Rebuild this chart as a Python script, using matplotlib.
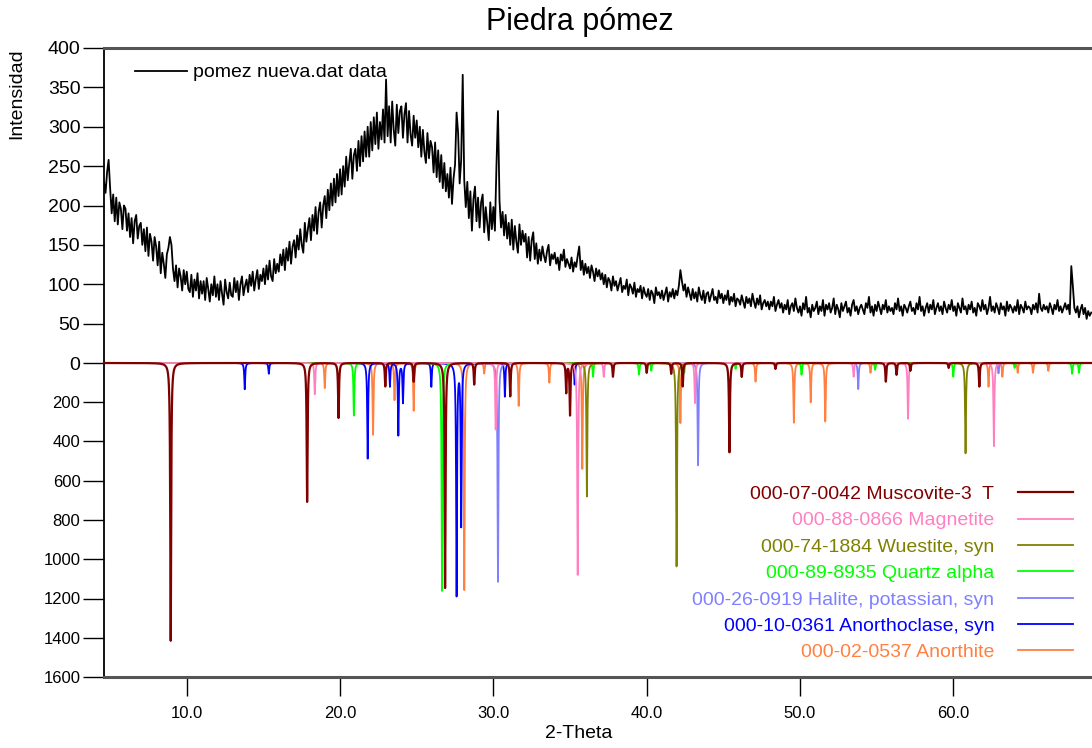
import matplotlib
matplotlib.use("Agg")
import matplotlib.pyplot as plt
from matplotlib.ticker import FormatStrFormatter
import numpy as np

plt.rcParams["font.family"] = ["Liberation Sans", "DejaVu Sans"]

SCAN_START = 4.6
SCAN_STEP = 0.1
counts = [
    230, 216, 242, 258,
    222, 190, 214, 180, 210, 176, 204, 196, 170, 200,   # 5
    196, 168, 190, 160, 184, 152, 180, 188, 158, 174,   # 6
    178, 150, 170, 142, 172, 136, 164, 154, 130, 160,   # 7
    148, 124, 154, 114, 140, 126, 108, 138, 146, 160,   # 8
    150, 120, 104, 124, 96, 120, 110, 92, 118, 100,     # 9
    116, 94, 90, 112, 84, 106, 92, 114, 82, 104,        # 10
    88, 104, 80, 108, 94, 78, 100, 86, 110, 84,         # 11
    100, 80, 104, 88, 74, 106, 90, 82, 102, 86,         # 12
    84, 108, 90, 104, 80, 100, 110, 86, 98, 106,        # 13
    90, 112, 98, 116, 92, 106, 118, 94, 112, 104,       # 14
    120, 100, 124, 106, 130, 110, 104, 132, 114, 126,   # 15
    116, 138, 124, 144, 118, 146, 130, 154, 126, 148,   # 16
    156, 134, 162, 144, 170, 150, 140, 178, 154, 170,   # 17
    184, 156, 188, 168, 198, 164, 192, 204, 172, 200,   # 18
    212, 184, 220, 194, 228, 200, 234, 204, 240, 212,   # 19
    246, 214, 250, 224, 262, 232, 254, 272, 234, 264,   # 20
    272, 244, 282, 250, 288, 256, 294, 262, 300, 262,   # 21
    306, 270, 312, 278, 318, 272, 306, 284, 322, 280,   # 22
    360, 288, 326, 280, 332, 296, 276, 328, 292, 320,   # 23
    326, 286, 316, 330, 280, 320, 290, 276, 314, 286,   # 24
    308, 274, 300, 262, 296, 268, 254, 292, 260, 282,   # 25
    274, 242, 280, 236, 270, 230, 264, 222, 254, 218,   # 26
    240, 210, 248, 202, 234, 252, 318, 292, 228, 258,   # 27
    366, 232, 198, 230, 184, 218, 168, 208, 224, 180,   # 28
    210, 172, 204, 214, 166, 198, 178, 156, 204, 170,   # 29
    198, 168, 250, 320, 206, 172, 192, 162, 188, 158,   # 30
    178, 150, 182, 144, 174, 154, 140, 176, 150, 168,   # 31
    154, 164, 134, 160, 130, 156, 166, 132, 152, 126,   # 32
    144, 130, 148, 136, 128, 142, 150, 124, 138, 132,   # 33
    140, 126, 134, 118, 138, 130, 144, 122, 132, 126,   # 34
    120, 134, 116, 128, 122, 136, 148, 118, 130, 112,   # 35
    126, 114, 122, 108, 124, 116, 104, 120, 110, 118,   # 36
    106, 114, 100, 112, 96, 108, 104, 92, 110, 98,      # 37
    104, 92, 100, 108, 90, 98, 94, 106, 86, 100,        # 38
    96, 88, 102, 84, 94, 90, 98, 82, 96, 88,            # 39
    84, 94, 80, 92, 88, 76, 96, 86, 90, 82,             # 40
    92, 80, 88, 96, 78, 90, 84, 94, 82, 92,             # 41
    86, 98, 118, 104, 92, 100, 84, 96, 88, 80,          # 42
    94, 82, 90, 78, 96, 86, 80, 92, 76, 88,             # 43
    90, 78, 86, 94, 80, 84, 76, 92, 82, 88,             # 44
    76, 86, 80, 92, 74, 84, 78, 88, 72, 82,             # 45
    80, 74, 86, 78, 70, 84, 76, 82, 72, 88,             # 46
    78, 70, 82, 74, 86, 68, 76, 80, 72, 78,             # 47
    68, 78, 72, 84, 66, 74, 80, 70, 76, 64,             # 48
    74, 68, 80, 62, 72, 76, 66, 82, 70, 64,             # 49
    72, 60, 76, 68, 84, 64, 70, 58, 74, 66,             # 50
    70, 78, 62, 72, 66, 80, 60, 74, 68, 76,             # 51
    64, 70, 82, 62, 74, 68, 58, 76, 66, 72,             # 52
    78, 64, 70, 60, 74, 80, 66, 72, 62, 70,             # 53
    74, 68, 62, 76, 70, 84, 64, 72, 60, 74,             # 54
    66, 78, 70, 62, 74, 68, 80, 64, 72, 66,             # 55
    70, 62, 76, 68, 82, 66, 72, 60, 74, 70,             # 56
    64, 72, 78, 66, 70, 62, 76, 68, 84, 66,             # 57
    72, 60, 70, 76, 64, 74, 68, 80, 62, 70,             # 58
    76, 66, 72, 62, 78, 70, 64, 74, 68, 80,             # 59
    66, 72, 60, 76, 70, 64, 82, 68, 72, 62,             # 60
    74, 68, 78, 64, 70, 60, 76, 72, 66, 80,             # 61
    68, 74, 62, 70, 84, 66, 72, 64, 76, 70,             # 62
    62, 76, 68, 72, 60, 78, 66, 74, 70, 64,             # 63
    72, 66, 80, 62, 74, 70, 64, 78, 68, 72,             # 64
    70, 62, 74, 68, 76, 64, 88, 70, 66, 74,             # 65
    68, 72, 64, 76, 70, 62, 74, 68, 80, 66,             # 66
    72, 64, 70, 76, 68, 74, 62, 123, 98, 70,            # 67
    64, 72, 58, 68, 74, 62, 70, 56, 66, 60,             # 68
    64,
]

# reference patterns: (2-theta, intensity)
muscovite = [(8.95, 1420), (17.85, 710), (19.9, 280), (22.95, 120), (24.8, 95),
             (26.85, 1150), (28.75, 110), (31.1, 170), (34.75, 150), (35.0, 265),
             (37.8, 70), (40.0, 50), (41.6, 55), (42.35, 120), (45.4, 455),
             (46.2, 70), (48.4, 30), (55.6, 95), (56.3, 60), (57.2, 40),
             (59.7, 25), (61.7, 120)]
magnetite = [(18.35, 160), (30.15, 340), (35.5, 1080), (37.2, 70), (43.15, 205),
             (53.5, 70), (57.05, 285), (62.65, 425)]
wuestite = [(36.1, 680), (41.95, 1040), (60.8, 460)]
quartz = [(20.9, 268), (26.65, 1165), (36.5, 70), (39.5, 60), (40.3, 40),
          (42.45, 50), (45.8, 30), (50.1, 60), (54.9, 35), (60.0, 70),
          (64.0, 25), (67.75, 55), (68.2, 50)]
halite = [(30.3, 1115), (43.35, 523), (53.8, 133), (62.95, 53)]
anorthoclase = [(13.78, 134), (15.35, 55), (21.8, 487), (23.25, 120), (23.8, 367),
                (24.1, 200), (25.95, 121), (27.6, 1179), (27.9, 822), (30.75, 172),
                (35.3, 110)]
anorthite = [(19.0, 128), (22.15, 367), (23.55, 190), (24.8, 243), (28.1, 1157),
             (29.4, 53), (31.65, 219), (33.65, 100), (35.8, 540), (42.2, 306),
             (47.1, 95), (49.6, 304), (50.7, 200), (51.65, 299), (54.6, 50),
             (62.3, 121), (63.2, 70), (64.2, 50), (65.2, 50), (66.2, 40)]

phase_labels = ["000-07-0042 Muscovite-3  T", "000-88-0866 Magnetite",
                "000-74-1884 Wuestite, syn", "000-89-8935 Quartz alpha",
                "000-26-0919 Halite, potassian, syn", "000-10-0361 Anorthoclase, syn",
                "000-02-0537 Anorthite"]
phase_peaks = [muscovite, magnetite, wuestite, quartz, halite, anorthoclase, anorthite]
phase_colors = ["#800000", "#ff80c0", "#808000", "#00ff00", "#8080ff", "#0000ff", "#ff8040"]

X_MIN, X_MAX = 4.6, 69.05
GAMMA = 0.035  # peak half-width used to draw each reference line


def profile(grid, peaks):
    y = np.zeros_like(grid)
    for pos, h in peaks:
        y += h * GAMMA ** 2 / ((grid - pos) ** 2 + GAMMA ** 2)
    return y


fig = plt.figure(figsize=(10.92, 7.48), dpi=100)
left = 104 / 1092
width = 1 - left
ax_top = fig.add_axes([left, 385 / 748, width, 315 / 748])
ax_bot = fig.add_axes([left, 71 / 748, width, 314 / 748], sharex=ax_top)

tt = SCAN_START + SCAN_STEP * np.arange(len(counts))
data_line, = ax_top.plot(tt, counts, color="black", lw=1.3, label="pomez nueva.dat data")

grid = np.arange(X_MIN, X_MAX, 0.004)
handles = []
n = len(phase_peaks)
for i, (lbl, pk, col) in enumerate(zip(phase_labels, phase_peaks, phase_colors)):
    h, = ax_bot.plot(grid, profile(grid, pk), color=col, lw=1.3 if i else 1.6,
                     label=lbl, zorder=2 + n - i, clip_on=False)
    handles.append(h)

ax_top.set_xlim(X_MIN, X_MAX)
ax_top.set_ylim(0, 400)
ax_top.set_yticks(np.arange(0, 401, 50))
ax_bot.set_ylim(1600, 0)
ax_bot.set_yticks(np.arange(200, 1601, 200))
ax_bot.set_xticks(np.arange(10, 61, 10))
ax_bot.xaxis.set_major_formatter(FormatStrFormatter("%.1f"))

for s in ("bottom", "right"):
    ax_top.spines[s].set_visible(False)
for s in ("top", "right"):
    ax_bot.spines[s].set_visible(False)
ax_top.spines["top"].set_color("#555555"); ax_top.spines["top"].set_linewidth(2.2)
ax_bot.spines["bottom"].set_color("#555555"); ax_bot.spines["bottom"].set_linewidth(2.2)
ax_top.spines["left"].set_linewidth(1.3)
ax_bot.spines["left"].set_linewidth(1.3)

ax_top.tick_params(axis="x", bottom=False, labelbottom=False)
ax_top.tick_params(axis="y", direction="out", length=15, width=1, labelsize=14, pad=2)
ax_bot.tick_params(axis="y", direction="out", length=15, width=1, labelsize=12, pad=2)
ax_bot.tick_params(axis="x", direction="out", length=14, width=1, labelsize=12, pad=7)

ax_top.legend(handles=[data_line], loc="upper left", bbox_to_anchor=(0.031, 0.95),
              frameon=False, borderpad=0, borderaxespad=0, handlelength=2.7,
              handletextpad=0.3, fontsize=14)
ax_bot.legend(handles=handles, loc="upper right", bbox_to_anchor=(0.981, 0.61),
              frameon=False, borderpad=0, borderaxespad=0, markerfirst=False,
              labelcolor="linecolor", handlelength=2.85, handletextpad=1.2,
              labelspacing=0.45, fontsize=14)

fig.text(580 / 1092, 1 - 22 / 748, "Piedra pómez", ha="center", va="center", fontsize=22)
fig.text(17 / 1092, 1 - 94 / 748, "Intensidad", ha="center", va="center",
         rotation=90, fontsize=14)
fig.text(579 / 1092, 1 - 733 / 748, "2-Theta", ha="center", va="center", fontsize=14)

fig.savefig("out.png", dpi=100)
